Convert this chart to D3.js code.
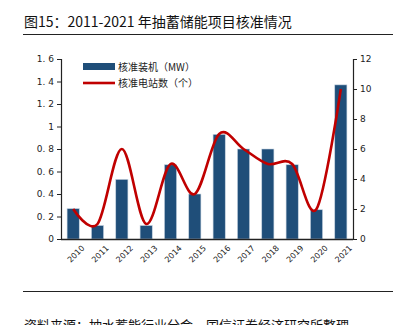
<!DOCTYPE html>
<html>
<head>
<meta charset="utf-8">
<script src="https://cdn.jsdelivr.net/npm/d3@7"></script>
<style>
  body { margin: 0; background: #fff; }
  text { font-family: "Noto Sans CJK SC", "DejaVu Sans", sans-serif; }
</style>
</head>
<body>
<div id="chart"></div>
<script>
// approvals of pumped-storage projects by year
var years = ['2010', '2011', '2012', '2013', '2014', '2015', '2016', '2017', '2018', '2019', '2020', '2021'];
var capacity = [0.27, 0.12, 0.53, 0.12, 0.66, 0.40, 0.93, 0.80, 0.80, 0.66, 0.26, 1.37];
var stations = [2, 1, 6, 1, 5, 3, 7, 6, 5, 5, 2, 10];
var leftTicks = [0, 0.2, 0.4, 0.6, 0.8, 1, 1.2, 1.4, 1.6];
var rightTicks = [0, 2, 4, 6, 8, 10, 12];

var W = 402, H = 325;
var plot = { left: 61, right: 353, top: 59, bottom: 239 };

const svg = d3.select('#chart').append('svg')
  .attr('width', W)
  .attr('height', H);

// title + rules
svg.append('text')
  .attr('x', 24).attr('y', 27)
  .style('font-size', '14px')
  .style('fill', '#111')
  .text('图15：2011-2021 年抽蓄储能项目核准情况');
svg.append('line')
  .attr('x1', 23).attr('x2', 393).attr('y1', 34.5).attr('y2', 34.5)
  .style('stroke', '#222').style('stroke-width', 1);
svg.append('line')
  .attr('x1', 23).attr('x2', 393).attr('y1', 291.5).attr('y2', 291.5)
  .style('stroke', '#222').style('stroke-width', 1);
svg.append('text')
  .attr('x', 24).attr('y', 330)
  .style('font-size', '13px')
  .style('fill', '#111')
  .text('资料来源：抽水蓄能行业分会、国信证券经济研究所整理');

const x = d3.scaleBand()
  .domain(years)
  .range([plot.left, plot.right])
  .paddingInner(0.5)
  .paddingOuter(0.25);
const yL = d3.scaleLinear().domain([0, 1.6]).range([plot.bottom, plot.top]);
const yR = d3.scaleLinear().domain([0, 12]).range([plot.bottom, plot.top]);

// bars
svg.append('g').selectAll('rect')
  .data(capacity)
  .enter().append('rect')
  .attr('x', (d, i) => x(years[i]))
  .attr('y', d => yL(d))
  .attr('width', x.bandwidth())
  .attr('height', d => yL(0) - yL(d))
  .style('fill', '#1f4e79')
  .style('stroke', '#c7d3e0')
  .style('stroke-width', 0.6);

// smoothed station count line
const line = d3.line()
  .x((d, i) => x(years[i]) + x.bandwidth() / 2)
  .y(d => yR(d))
  .curve(d3.curveCatmullRom.alpha(0));
svg.append('path')
  .datum(stations)
  .attr('d', line)
  .style('fill', 'none')
  .style('stroke', '#c00000')
  .style('stroke-width', 2.6);

// left axis
const axL = svg.append('g')
  .attr('transform', `translate(${plot.left},0)`)
  .call(d3.axisLeft(yL).tickValues(leftTicks).tickSize(4).tickFormat(d => d3.format('')(d).replace('.', '. ')));
// right axis
const axR = svg.append('g')
  .attr('transform', `translate(${plot.right},0)`)
  .call(d3.axisRight(yR).tickValues(rightTicks).tickSize(4));
[axL, axR].forEach(a => {
  a.select('.domain').style('stroke', '#222').style('stroke-width', 1.2);
  a.selectAll('.tick line').style('stroke', '#222');
  a.selectAll('.tick text')
    .style('font-family', '"DejaVu Sans", sans-serif')
    .style('font-size', '9px')
    .style('fill', '#222');
});

// x axis
const axX = svg.append('g')
  .attr('transform', `translate(0,${plot.bottom})`)
  .call(d3.axisBottom(x).tickSize(0).tickPadding(8));
axX.select('.domain')
  .attr('d', `M${plot.left},0.5H${plot.right}`)
  .style('stroke', '#222').style('stroke-width', 1.4);
axX.selectAll('.tick text')
  .style('font-family', '"DejaVu Sans", sans-serif')
  .style('font-size', '8px')
  .style('fill', '#222')
  .attr('text-anchor', 'end')
  .attr('dx', '0.2em')
  .attr('dy', '0.9em')
  .attr('transform', 'rotate(-45)');

// legend
const lg = svg.append('g').attr('transform', 'translate(83,0)');
lg.append('rect')
  .attr('x', 0).attr('y', 63).attr('width', 32).attr('height', 7)
  .style('fill', '#1f4e79');
lg.append('text')
  .attr('x', 35).attr('y', 70.5)
  .style('font-size', '10px').style('fill', '#222')
  .text('核准装机（MW）');
lg.append('line')
  .attr('x1', 0).attr('x2', 32).attr('y1', 83).attr('y2', 83)
  .style('stroke', '#c00000').style('stroke-width', 2.6);
lg.append('text')
  .attr('x', 35).attr('y', 86.5)
  .style('font-size', '10px').style('fill', '#222')
  .text('核准电站数（个）');
</script>
</body>
</html>
